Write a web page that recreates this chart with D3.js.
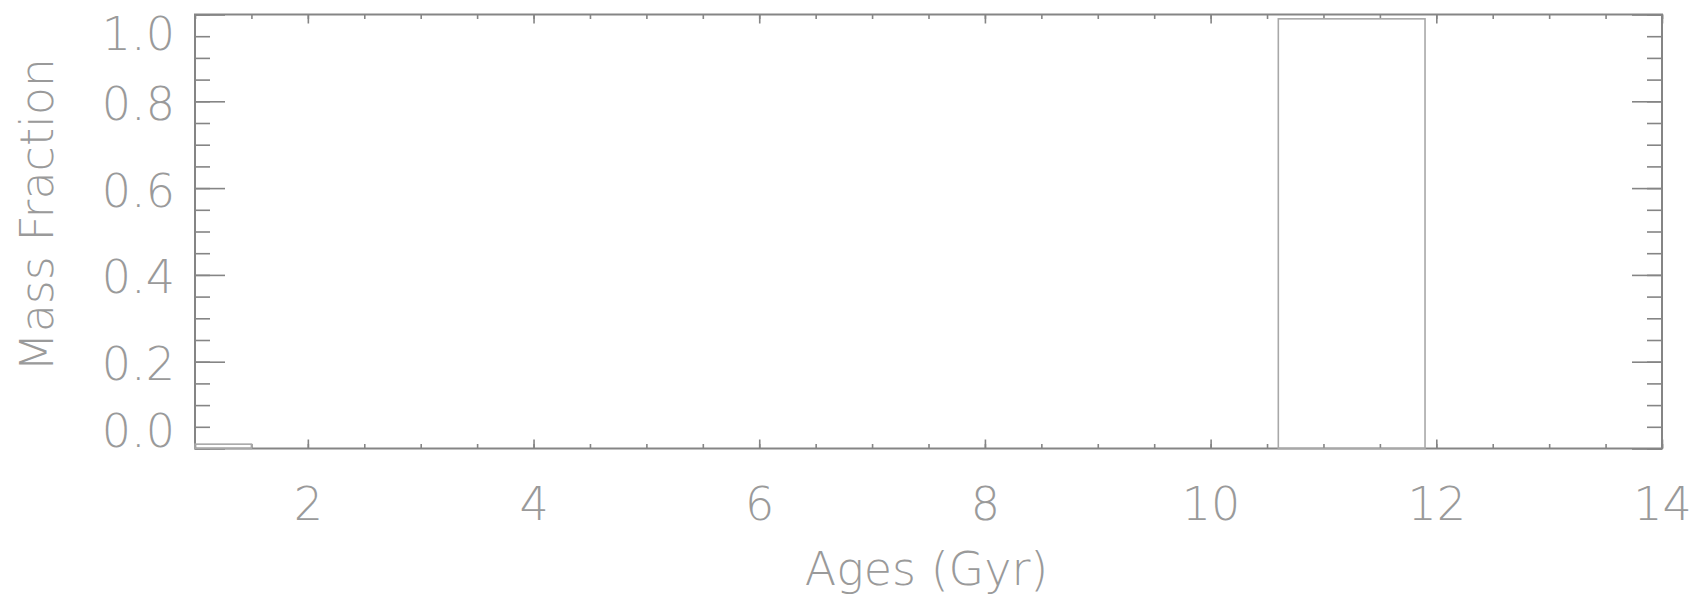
<!DOCTYPE html>
<html>
<head>
<meta charset="utf-8">
<script src="https://cdn.jsdelivr.net/npm/d3@7"></script>
<style>
  html, body { margin: 0; padding: 0; background: #fff; }
  svg { display: block; }
  text { font-family: "DejaVu Sans ExtraLight", "DejaVu Sans", sans-serif; font-weight: 200; fill: #9a9a9a; }
</style>
</head>
<body>
<svg id="chart" width="1698" height="602"></svg>
<script>
// ---- data ----
const binStart = [1.0, 10.6];
const binEnd   = [1.5, 11.9];
const massFraction = [0.010, 0.990];
const xTicks = [2, 4, 6, 8, 10, 12, 14];
const yTicks = [0.0, 0.2, 0.4, 0.6, 0.8, 1.0];
const xTitle = "Ages (Gyr)";
const yTitle = "Mass Fraction";

// ---- layout ----
const W = 1698, H = 602;
const margin = { left: 195, right: 36, top: 14.5, bottom: 153.5 };
const svg = d3.select("#chart");
const x = d3.scaleLinear().domain([1, 14]).range([margin.left, W - margin.right]);
const y = d3.scaleLinear().domain([0, 1]).range([H - margin.bottom, margin.top]);

const axisColor = "#858585";
const fs = 46;

const xMinor = d3.range(1, 14.001, 0.5);
const yMinor = d3.range(0, 1.0001, 0.05);

function styleAxis(g) {
  g.select(".domain").remove();
  g.selectAll(".tick line").attr("stroke", axisColor).attr("stroke-width", 1.6);
}

// minor ticks
svg.append("g").attr("transform", `translate(0,${y(0)})`)
  .call(d3.axisBottom(x).tickValues(xMinor).tickSizeInner(-4.5).tickSizeOuter(0).tickFormat(""))
  .call(styleAxis);
svg.append("g").attr("transform", `translate(0,${y(1)})`)
  .call(d3.axisTop(x).tickValues(xMinor).tickSizeInner(-4.5).tickSizeOuter(0).tickFormat(""))
  .call(styleAxis);
svg.append("g").attr("transform", `translate(${x(1)},0)`)
  .call(d3.axisLeft(y).tickValues(yMinor).tickSizeInner(-15).tickSizeOuter(0).tickFormat(""))
  .call(styleAxis);
svg.append("g").attr("transform", `translate(${x(14)},0)`)
  .call(d3.axisRight(y).tickValues(yMinor).tickSizeInner(-15).tickSizeOuter(0).tickFormat(""))
  .call(styleAxis);

// major ticks
const gx = svg.append("g").attr("transform", `translate(0,${y(0)})`)
  .call(d3.axisBottom(x).tickValues(xTicks).tickSizeInner(-9).tickSizeOuter(0).tickPadding(39).tickFormat(d3.format("d")))
  .call(styleAxis);
gx.selectAll("text").attr("font-size", fs).attr("fill", "#9a9a9a")
  .attr("font-family", null);
svg.append("g").attr("transform", `translate(0,${y(1)})`)
  .call(d3.axisTop(x).tickValues(xTicks).tickSizeInner(-9).tickSizeOuter(0).tickFormat(""))
  .call(styleAxis);

const gy = svg.append("g").attr("transform", `translate(${x(1)},0)`)
  .call(d3.axisLeft(y).tickValues(yTicks).tickSizeInner(-30).tickSizeOuter(0).tickPadding(20).tickFormat(d3.format(".1f")))
  .call(styleAxis);
gy.selectAll("text").attr("font-size", fs).attr("fill", "#9a9a9a").attr("font-family", null)
  .attr("dy", d => d === 1 ? "0.75em" : (d === 0 ? "-0.05em" : "0.39em"));
svg.append("g").attr("transform", `translate(${x(14)},0)`)
  .call(d3.axisRight(y).tickValues(yTicks).tickSizeInner(-30).tickSizeOuter(0).tickFormat(""))
  .call(styleAxis);

// frame
svg.append("rect")
  .attr("x", x(1)).attr("y", y(1))
  .attr("width", x(14) - x(1)).attr("height", y(0) - y(1))
  .attr("fill", "none").attr("stroke", axisColor).attr("stroke-width", 2);

// histogram bars (outline)
svg.append("g").selectAll("rect").data(massFraction).join("rect")
  .attr("x", (d, i) => x(binStart[i]))
  .attr("width", (d, i) => x(binEnd[i]) - x(binStart[i]))
  .attr("y", d => y(d))
  .attr("height", d => y(0) - y(d))
  .attr("fill", "none").attr("stroke", "#a8a8a8").attr("stroke-width", 1.6);

// titles
svg.append("text")
  .attr("x", (x(1) + x(14)) / 2 - 2).attr("y", 585)
  .attr("text-anchor", "middle").attr("font-size", fs)
  .text(xTitle);
svg.append("text")
  .attr("transform", `translate(53,215) rotate(-90)`)
  .attr("text-anchor", "middle").attr("font-size", fs)
  .text(yTitle);
</script>
</body>
</html>
